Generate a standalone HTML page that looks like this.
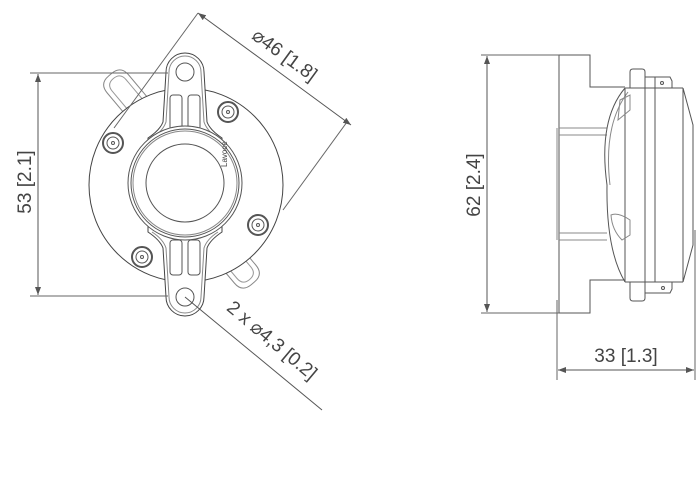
<!DOCTYPE html>
<html><head><meta charset="utf-8"><style>
html,body{margin:0;padding:0;background:#fff;}
svg{display:block;}
text{font-family:"Liberation Sans","DejaVu Sans",sans-serif;fill:#444;}
</style></head><body>
<svg width="700" height="499" viewBox="0 0 700 499" xmlns="http://www.w3.org/2000/svg">
<defs>
<marker id="ar" markerWidth="8" markerHeight="6" refX="8" refY="3" orient="auto" markerUnits="userSpaceOnUse">
<path d="M0,0 L8,3 L0,6 Z" fill="#555"/></marker>
</defs>
<g fill="none" stroke="#555" stroke-width="1">
<!-- front view -->
<g transform="translate(123,90) rotate(-40)">
<path d="M-14,22 L-14,-8 Q-14,-20 -2,-20 L2,-20 Q14,-20 14,-8 L14,22" stroke="#888"/>
<path d="M-9,22 L-9,-6 Q-9,-15 0,-15 Q9,-15 9,-6 L9,22" stroke="#999"/>
</g>
<g transform="translate(240,268) rotate(140)">
<path d="M-14,22 L-14,-8 Q-14,-20 -2,-20 L2,-20 Q14,-20 14,-8 L14,22" stroke="#888"/>
<path d="M-9,22 L-9,-6 Q-9,-15 0,-15 Q9,-15 9,-6 L9,22" stroke="#999"/>
</g>
<circle cx="186" cy="185" r="97" fill="#fff" stroke="#444"/>
<g stroke="#555">
<circle cx="113" cy="143" r="10" fill="#fff" stroke-width="2"/><circle cx="113" cy="143" r="6"/><circle cx="113" cy="143" r="1.5"/>
<circle cx="228" cy="112" r="10" fill="#fff" stroke-width="2"/><circle cx="228" cy="112" r="6"/><circle cx="228" cy="112" r="1.5"/>
<circle cx="258" cy="225" r="10" fill="#fff" stroke-width="2"/><circle cx="258" cy="225" r="6"/><circle cx="258" cy="225" r="1.5"/>
<circle cx="142" cy="257" r="10" fill="#fff" stroke-width="2"/><circle cx="142" cy="257" r="6"/><circle cx="142" cy="257" r="1.5"/>
</g>
<path d="M166,72 A19,19 0 0 1 204,72 L207,122 Q210,130 222,138 L222,232 Q210,240 207,248 L204,297 A19,19 0 0 1 166,297 L163,248 Q160,240 148,232 L148,138 Q160,130 163,122 Z" fill="#fff" stroke="#444"/>
<path d="M169,72 A16,16 0 0 1 201,72 L204,122 Q207,131 218,138 M169,72 L166,122 Q163,131 152,138 M218,232 Q207,239 204,248 L201,297 A16,16 0 0 1 169,297 L166,248 Q163,239 152,232" stroke="#888"/>
<circle cx="185" cy="72" r="9"/>
<circle cx="185" cy="297" r="9"/>
<rect x="170" y="95" width="12" height="35" rx="3"/><rect x="188" y="95" width="12" height="35" rx="3"/>
<rect x="170" y="240" width="12" height="35" rx="3"/><rect x="188" y="240" width="12" height="35" rx="3"/>
<circle cx="185" cy="183" r="57" fill="#fff"/>
<circle cx="185" cy="183" r="54"/>
<circle cx="185" cy="183" r="52" stroke="#888"/>
<circle cx="185" cy="183" r="39"/>
<!-- dimension 53 -->
<line x1="30" y1="73" x2="168" y2="73" stroke="#666"/>
<line x1="30" y1="296" x2="168" y2="296" stroke="#666"/>
<line x1="38" y1="185" x2="38" y2="74" marker-end="url(#ar)"/>
<line x1="38" y1="185" x2="38" y2="295" marker-end="url(#ar)"/>
<!-- dimension 46 -->
<line x1="198" y1="13" x2="114" y2="128" stroke="#666"/>
<line x1="347" y1="122" x2="283" y2="210" stroke="#666"/>
<line x1="272" y1="67" x2="198" y2="13" marker-end="url(#ar)"/>
<line x1="272" y1="67" x2="351" y2="125" marker-end="url(#ar)"/>
<line x1="185" y1="297" x2="322" y2="410"/>
<!-- side view -->
<path d="M559,55 L590,55 L590,87 L625,87 M559,55 L559,313 L590,313 L590,280 L625,280"/>
<line x1="557" y1="128" x2="557" y2="240" stroke="#888"/>
<path d="M559,128 L607,128 M559,240 L607,240 M559,135 L607,135 M559,233 L607,233" stroke="#888"/>
<path d="M625,88 Q598,120 607,185 Q606,250 625,282"/>
<path d="M628,92 Q603,125 610,185" stroke="#888"/>
<path d="M625,88 L683,88 M625,282 L683,282"/>
<line x1="625" y1="88" x2="625" y2="282"/>
<line x1="645" y1="88" x2="645" y2="282"/>
<line x1="655" y1="88" x2="655" y2="282"/>
<line x1="683" y1="88" x2="683" y2="282"/>
<path d="M683,88 L693,125 L693,245 L683,282"/>
<path d="M630,88 L630,72 Q630,69 633,69 L642,69 Q645,69 645,72 L645,88"/>
<path d="M645,77 L670,77 L672,81 L672,88 M655,77 L655,88"/>
<circle cx="662" cy="83" r="1.5"/>
<path d="M630,282 L630,298 Q630,301 633,301 L642,301 Q645,301 645,298 L645,282"/>
<path d="M645,293 L670,293 L672,289 L672,282"/>
<circle cx="663" cy="288" r="1.5"/>
<path d="M620,100 L630,95 L630,110 L618,120 Z M611,215 Q618,212 630,220 L630,235 L622,240 Q612,230 611,215 Z" stroke="#888"/>
<!-- dim 62 -->
<line x1="481" y1="55" x2="559" y2="55" stroke="#666"/>
<line x1="481" y1="313" x2="559" y2="313" stroke="#666"/>
<line x1="487" y1="185" x2="487" y2="56" marker-end="url(#ar)"/>
<line x1="487" y1="185" x2="487" y2="312" marker-end="url(#ar)"/>
<!-- dim 33 -->
<line x1="557" y1="300" x2="557" y2="380" stroke="#666"/>
<line x1="695" y1="230" x2="695" y2="380" stroke="#666"/>
<line x1="626" y1="370" x2="558" y2="370" marker-end="url(#ar)"/>
<line x1="626" y1="370" x2="694" y2="370" marker-end="url(#ar)"/>
</g>
<text x="0" y="0" font-size="8" transform="translate(227,167) rotate(-90)" fill="#555">Lavoce</text>
<g font-size="19">
<text transform="translate(31,182) rotate(-90)" text-anchor="middle">53 [2.1]</text>
<text transform="translate(480,185) rotate(-90)" text-anchor="middle">62 [2.4]</text>
<text x="626" y="362" text-anchor="middle">33 [1.3]</text>
<text transform="translate(281,60) rotate(36)" text-anchor="middle">⌀46 [1.8]</text>
<text transform="translate(268,345) rotate(40)" text-anchor="middle">2 x ⌀4,3 [0.2]</text>
</g>
</svg>
</body></html>
